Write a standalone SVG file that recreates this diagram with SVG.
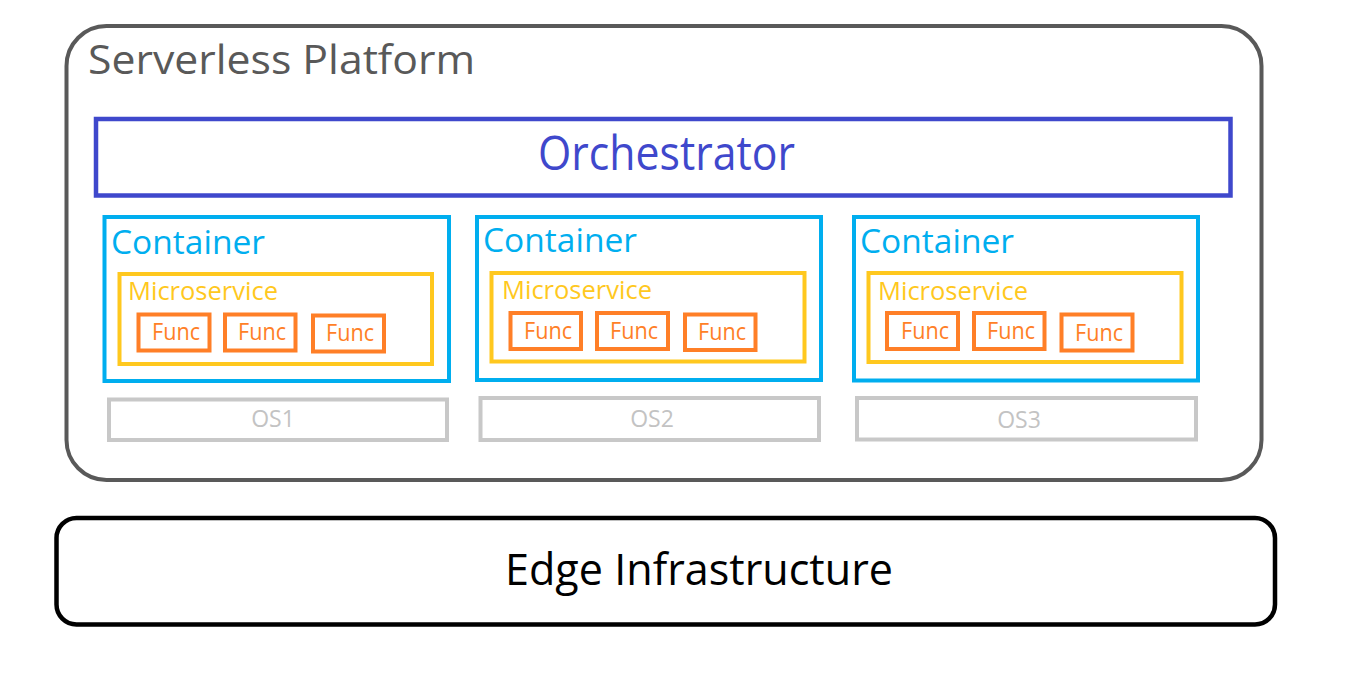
<svg xmlns="http://www.w3.org/2000/svg" width="1350" height="679" viewBox="0 0 1350 679">
<style>
text{font-family:"Open Sans","Noto Sans","Liberation Sans",sans-serif}
.plat{fill:#fff;stroke:#595959;stroke-width:4}
.orch{fill:none;stroke:#3F48CC;stroke-width:4.5}
.cont{fill:none;stroke:#00AEEF;stroke-width:4}
.ms{fill:none;stroke:#FFC81E;stroke-width:4}
.fn{fill:none;stroke:#FF7F27;stroke-width:4}
.os{fill:none;stroke:#C8C8C8;stroke-width:4}
.edge{fill:#fff;stroke:#000;stroke-width:4.5}
.tplat{fill:#595959;font-size:41px}
.torch{fill:#3F48CC;font-size:47px}
.tcont{fill:#00AEEF;font-size:33px}
.tms{fill:#FFC81E;font-size:26px}
.tfn{fill:#FF7F27;font-size:24px;text-anchor:middle}
.tos{fill:#C3C3C3;font-size:23px;text-anchor:middle}
.tedge{fill:#000;font-size:44px}
</style>
<rect width="1350" height="679" fill="#fff"/>
<g id="platform">
<rect class="plat" x="66.5" y="26" width="1195" height="454" rx="40" ry="40"/>
<text class="tplat" x="88" y="74" textLength="387" lengthAdjust="spacingAndGlyphs">Serverless Platform</text>
</g>
<g id="orchestrator">
<rect class="orch" x="96" y="119" width="1134.5" height="76.5"/>
<text class="torch" x="538" y="170" textLength="257" lengthAdjust="spacingAndGlyphs">Orchestrator</text>
</g>
<g id="container1">
<rect class="cont" x="104.5" y="217" width="344.5" height="164"/>
<text class="tcont" x="111" y="254" textLength="154" lengthAdjust="spacingAndGlyphs">Container</text>
</g>
<g id="microservice1">
<rect class="ms" x="119.5" y="274" width="312.5" height="90"/>
<text class="tms" x="128" y="300" textLength="150" lengthAdjust="spacingAndGlyphs">Microservice</text>
</g>
<g id="func1a"><rect class="fn" x="138.5" y="314.5" width="71" height="36"/><text class="tfn" x="176" y="340" textLength="48" lengthAdjust="spacingAndGlyphs">Func</text></g>
<g id="func1b"><rect class="fn" x="225" y="314.5" width="70.5" height="36"/><text class="tfn" x="262" y="340" textLength="48" lengthAdjust="spacingAndGlyphs">Func</text></g>
<g id="func1c"><rect class="fn" x="313" y="315.5" width="71" height="36"/><text class="tfn" x="350" y="341" textLength="48" lengthAdjust="spacingAndGlyphs">Func</text></g>
<g id="os1"><rect class="os" x="109" y="399.5" width="338" height="40.5"/><text class="tos" x="273" y="427">OS1</text></g>

<g id="container2">
<rect class="cont" x="477" y="217" width="344" height="163"/>
<text class="tcont" x="483" y="252" textLength="154" lengthAdjust="spacingAndGlyphs">Container</text>
</g>
<g id="microservice2">
<rect class="ms" x="491.5" y="273" width="313" height="88.5"/>
<text class="tms" x="502" y="299" textLength="150" lengthAdjust="spacingAndGlyphs">Microservice</text>
</g>
<g id="func2a"><rect class="fn" x="510.5" y="313" width="70.5" height="36"/><text class="tfn" x="548" y="339" textLength="48" lengthAdjust="spacingAndGlyphs">Func</text></g>
<g id="func2b"><rect class="fn" x="597" y="313" width="71" height="36"/><text class="tfn" x="634" y="339" textLength="48" lengthAdjust="spacingAndGlyphs">Func</text></g>
<g id="func2c"><rect class="fn" x="685" y="314.5" width="70.5" height="35.5"/><text class="tfn" x="722" y="340" textLength="48" lengthAdjust="spacingAndGlyphs">Func</text></g>
<g id="os2"><rect class="os" x="480.5" y="398" width="338.5" height="42"/><text class="tos" x="652" y="427">OS2</text></g>

<g id="container3">
<rect class="cont" x="854" y="217" width="344" height="163.5"/>
<text class="tcont" x="860" y="253" textLength="154" lengthAdjust="spacingAndGlyphs">Container</text>
</g>
<g id="microservice3">
<rect class="ms" x="868.5" y="273" width="313" height="89"/>
<text class="tms" x="878" y="300" textLength="150" lengthAdjust="spacingAndGlyphs">Microservice</text>
</g>
<g id="func3a"><rect class="fn" x="887" y="313" width="71" height="36"/><text class="tfn" x="925" y="339" textLength="48" lengthAdjust="spacingAndGlyphs">Func</text></g>
<g id="func3b"><rect class="fn" x="974" y="313" width="70.5" height="36"/><text class="tfn" x="1011" y="339" textLength="48" lengthAdjust="spacingAndGlyphs">Func</text></g>
<g id="func3c"><rect class="fn" x="1061.5" y="314.5" width="71" height="36"/><text class="tfn" x="1099" y="341" textLength="48" lengthAdjust="spacingAndGlyphs">Func</text></g>
<g id="os3"><rect class="os" x="857" y="398" width="339" height="41.5"/><text class="tos" x="1019" y="428">OS3</text></g>

<g id="edge">
<rect class="edge" x="56.5" y="518" width="1218.5" height="106.5" rx="20" ry="20"/>
<text class="tedge" x="505" y="585" textLength="388" lengthAdjust="spacingAndGlyphs">Edge Infrastructure</text>
</g>
<g id="connectors"></g>
</svg>
